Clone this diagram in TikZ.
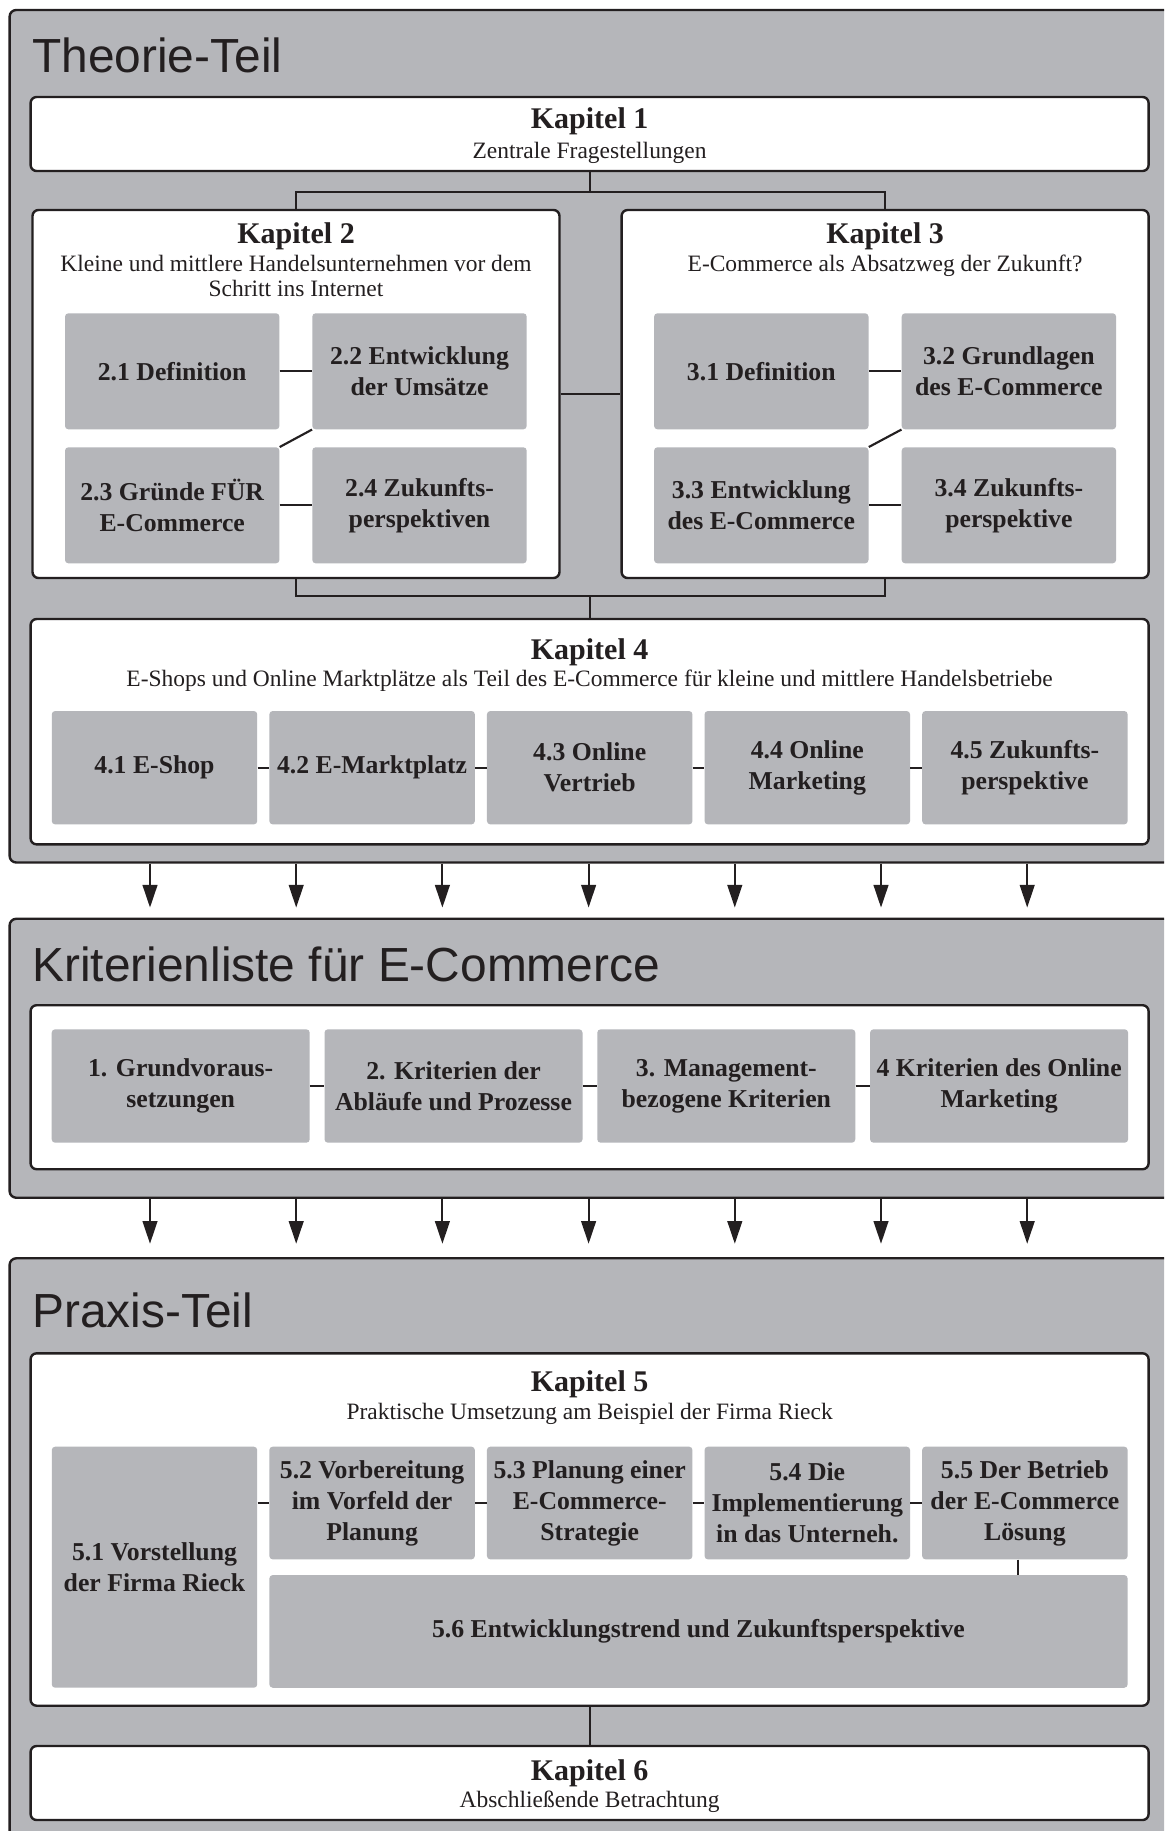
\documentclass[tikz,border=0pt]{standalone}
\usepackage{fontspec}
\setmainfont{Liberation Serif}
\newfontfamily\titelschrift{Liberation Sans}
\usetikzlibrary{arrows.meta}
\definecolor{grau}{RGB}{181,182,186}
\definecolor{dunkel}{RGB}{35,31,32}

\begin{document}
\begin{tikzpicture}[x=0.75pt,y=0.75pt,yscale=-1,xscale=1,
    teil/.style={draw=dunkel,line width=1.8pt,fill=grau,rounded corners=5pt,minimum width=885.3pt,inner sep=0pt},
    teiltitel/.style={anchor=base west,inner sep=0pt,text=dunkel,font=\titelschrift\fontsize{35.9}{40}\selectfont},
    kapitel/.style={draw=dunkel,line width=1.8pt,fill=white,rounded corners=4.5pt,inner sep=0pt},
    kapkopf/.style={anchor=base,inner sep=0pt,text=dunkel,font=\fontsize{22.5}{27}\selectfont\bfseries},
    kapunter/.style={anchor=base,inner sep=0pt,text=dunkel,font=\fontsize{17.6}{18.75}\selectfont},
    abschnitt/.style={fill=grau,rounded corners=2.5pt,inner sep=0pt,align=center,text=dunkel,font=\fontsize{19.3}{23.25}\selectfont\bfseries},
    klein/.style={abschnitt,minimum width=160.8pt,minimum height=87pt},
    mittel/.style={abschnitt,minimum width=154.1pt,minimum height=85pt},
    breit/.style={abschnitt,minimum width=193.5pt,minimum height=85pt},
    linie/.style={draw=dunkel,line width=1.6pt},
    pfeil/.style={draw=dunkel,line width=1.6pt,-{Triangle[length=17pt,width=11pt]}}
]
    %set diagram size: 1164 x 1831
    \useasboundingbox (0,0) rectangle (1164,1831);
    \clip (0,0) rectangle (1164,1831);

    %Shape: Panels
    \node[teil,minimum height=639.4pt] (theorie) at (599.8,436.25) {};
    \node[teil,minimum height=209.2pt] (kriterien) at (599.8,1058.25) {};
    \node[teil,minimum height=451.3pt] (praxis) at (599.8,1559.15) {};
    % Text Node
    \node[teiltitel] (theorietitel) at (32,72) {Theorie-Teil};
    \node[teiltitel] (kriterientitel) at (32,981) {Kriterienliste für E-Commerce};
    \node[teiltitel] (praxistitel) at (32,1327.3) {Praxis-Teil};

    %Shape: Kapitel 1
    \node[kapitel,minimum width=838.5pt,minimum height=55.5pt] (kap1) at (589.6,134) {};
    \node[kapkopf] (kap1kopf) at (589.6,128) {Kapitel 1};
    \node[kapunter] (kap1text) at (589.6,158) {Zentrale Fragestellungen};

    %Shape: Kapitel 2
    \node[kapitel,minimum width=395.25pt,minimum height=276pt] (kap2) at (296,394) {};
    \node[kapkopf] (kap2kopf) at (296,243) {Kapitel 2};
    \node[kapunter] (kap2text) at (296,271.7) {Kleine und mittlere Handelsunternehmen vor dem};
    \node[kapunter] (kap2text2) at (296,296.7) {Schritt ins Internet};
    \node[klein] (a21) at (172.2,371.3) {2.1 Definition};
    \node[klein] (a22) at (419.5,371.3) {2.2 Entwicklung\\der Umsätze};
    \node[klein] (a23) at (172.2,505.3) {2.3 Gründe FÜR\\E-Commerce};
    \node[klein] (a24) at (419.5,505.3) {2.4 Zukunfts-\\perspektiven};

    %Shape: Kapitel 3
    \node[kapitel,minimum width=395.25pt,minimum height=276pt] (kap3) at (885.1,394) {};
    \node[kapkopf] (kap3kopf) at (885.1,243) {Kapitel 3};
    \node[kapunter] (kap3text) at (885.1,271.7) {E-Commerce als Absatzweg der Zukunft?};
    \node[klein] (a31) at (761.3,371.3) {3.1 Definition};
    \node[klein] (a32) at (1008.9,371.3) {3.2 Grundlagen\\des E-Commerce};
    \node[klein] (a33) at (761.3,505.3) {3.3 Entwicklung\\des E-Commerce};
    \node[klein] (a34) at (1008.9,505.3) {3.4 Zukunfts-\\perspektive};

    %Shape: Kapitel 4
    \node[kapitel,minimum width=838.5pt,minimum height=169pt] (kap4) at (589.6,731.7) {};
    \node[kapkopf] (kap4kopf) at (589.6,659) {Kapitel 4};
    \node[kapunter] (kap4text) at (589.6,686) {E-Shops und Online Marktplätze als Teil des E-Commerce für kleine und mittlere Handelsbetriebe};
    \node[mittel] (a41) at (154.5,767.7) {4.1 E-Shop};
    \node[mittel] (a42) at (372.1,767.7) {4.2 E-Marktplatz};
    \node[mittel] (a43) at (589.7,767.7) {4.3 Online\\Vertrieb};
    \node[mittel] (a44) at (807.3,767.7) {4.4 Online\\Marketing};
    \node[mittel] (a45) at (1024.9,767.7) {4.5 Zukunfts-\\perspektive};

    %Shape: Kriterienliste
    \node[kapitel,minimum width=838.5pt,minimum height=123pt] (kritliste) at (589.6,1087.2) {};
    \node[breit] (k1) at (180.7,1086) {1. Grundvoraus-\\setzungen};
    \node[breit] (k2) at (453.5,1086) {2. Kriterien der\\Abläufe und Prozesse};
    \node[breit] (k3) at (726.3,1086) {3. Management-\\bezogene Kriterien};
    \node[breit] (k4) at (999.1,1086) {4 Kriterien des Online\\Marketing};

    %Shape: Kapitel 5
    \node[kapitel,minimum width=838.5pt,minimum height=264.3pt] (kap5) at (589.6,1529.5) {};
    \node[kapkopf] (kap5kopf) at (589.6,1391.7) {Kapitel 5};
    \node[kapunter] (kap5text) at (589.6,1419.3) {Praktische Umsetzung am Beispiel der Firma Rieck};
    \node[mittel,minimum height=180.75pt] (a51) at (154.5,1567.2) {5.1 Vorstellung\\der Firma Rieck};
    \node[mittel,minimum height=84.5pt] (a52) at (372.1,1503) {5.2 Vorbereitung\\im Vorfeld der\\Planung};
    \node[mittel,minimum height=84.5pt] (a53) at (589.7,1503) {5.3 Planung einer\\E-Commerce-\\Strategie};
    \node[mittel,minimum height=84.5pt] (a54) at (807.3,1503) {5.4 Die\\Implementierung\\in das Unterneh.};
    \node[mittel,minimum height=84.5pt] (a55) at (1024.9,1503) {5.5 Der Betrieb\\der E-Commerce\\Lösung};
    \node[abschnitt,minimum width=643.65pt,minimum height=84.5pt] (a56) at (698.5,1631.4) {5.6 Entwicklungstrend und Zukunftsperspektive};

    %Shape: Kapitel 6
    \node[kapitel,minimum width=838.5pt,minimum height=55.5pt] (kap6) at (589.6,1783) {};
    \node[kapkopf] (kap6kopf) at (589.6,1780) {Kapitel 6};
    \node[kapunter] (kap6text) at (589.6,1807.3) {Abschließende Betrachtung};

    %Straight Lines
    \draw[linie] (kap1.south) -- ++(0,20) coordinate (k1mitte);
    \draw[linie] (kap2.north) |- (k1mitte) -| (kap3.north);
    \draw[linie] (kap4.north) -- ++(0,-22) coordinate (k4mitte);
    \draw[linie] (kap2.south) |- (k4mitte) -| (kap3.south);
    \draw[linie] (kap2.east) -- (kap3.west);
    \foreach \von/\nach in {a21/a22,a23/a24,a31/a32,a33/a34,a41/a42,a42/a43,a43/a44,a44/a45,k1/k2,k2/k3,k3/k4,a52/a53,a53/a54,a54/a55}
        \draw[linie] (\von) -- (\nach);
    \draw[linie] (a22.south west) -- (a23.north east);
    \draw[linie] (a32.south west) -- (a33.north east);
    \draw[linie] (a51.east |- a52.west) -- (a52.west);
    \coordinate (a55fuss) at ([xshift=-5.5pt]a55.south);
    \draw[linie] (a55fuss) -- (a55fuss |- a56.north);
    \draw[linie] (kap5) -- (kap6);

    %Arrows between panels
    \foreach \i in {0,...,6}{
        \pgfmathsetmacro{\pfx}{150+146.2*\i}
        \coordinate (pfeilx) at (\pfx,0);
        \draw[pfeil,shorten >=7.5pt] (pfeilx |- theorie.south) -- (pfeilx |- kriterien.north);
        \draw[pfeil,shorten >=10pt] (pfeilx |- kriterien.south) -- (pfeilx |- praxis.north);
    }
\end{tikzpicture}
\end{document}
